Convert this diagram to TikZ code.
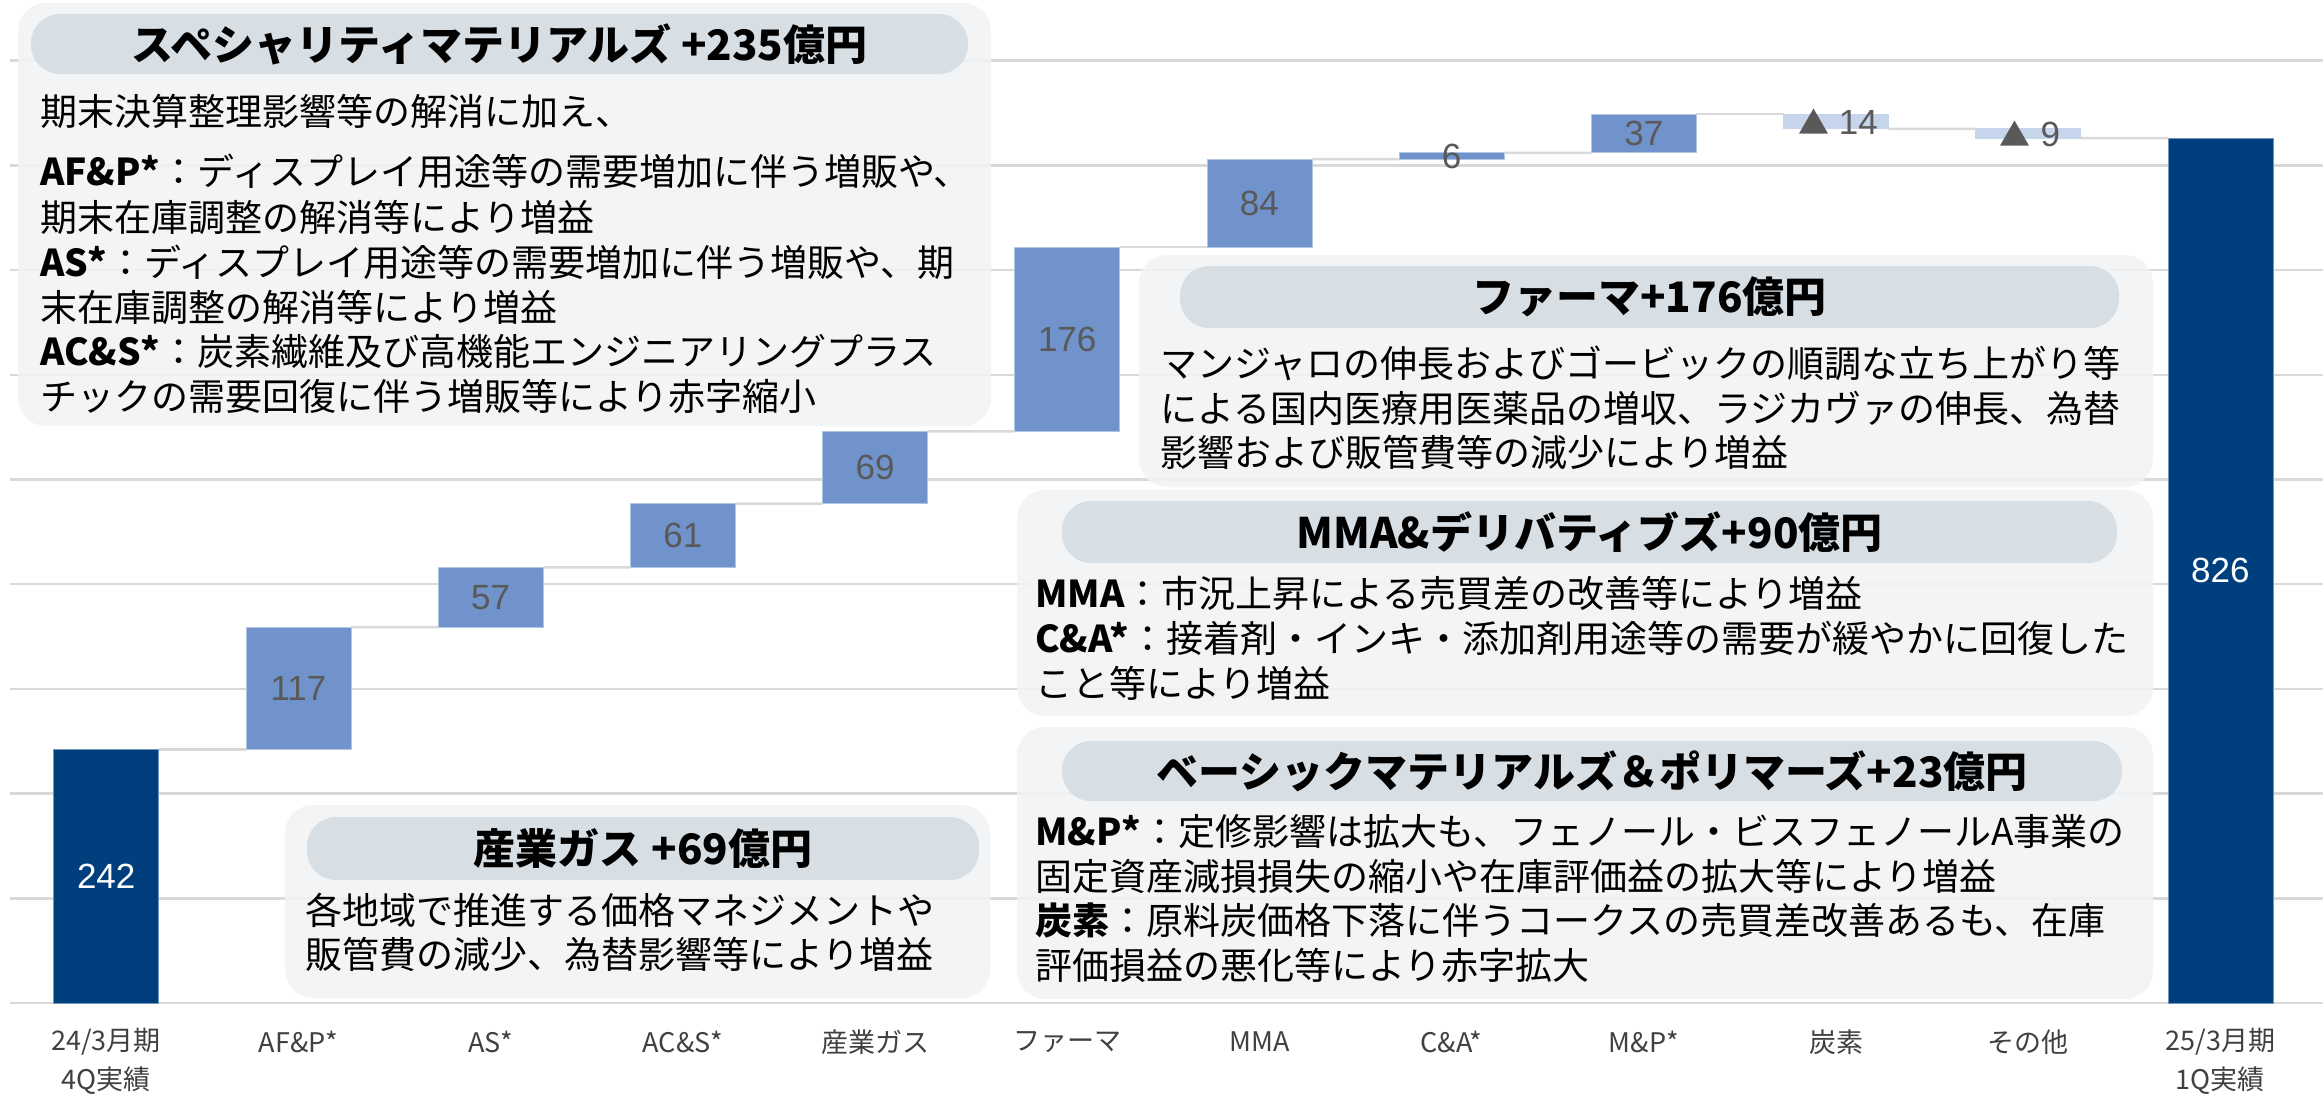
\documentclass[tikz,border=0pt]{standalone}
\usepackage{fontspec}
\setmainfont{Liberation Sans}
\newfontfamily\jp{Noto Sans CJK JP}
\definecolor{darkbar}{HTML}{003F7E}
\definecolor{midbar}{HTML}{7093CC}
\definecolor{lightbar}{HTML}{C6D5EC}
\definecolor{panelbg}{HTML}{F1F3F5}
\definecolor{pillbg}{HTML}{D7DFE4}
\definecolor{gridc}{HTML}{D9D9D9}
\definecolor{labc}{HTML}{595959}
\definecolor{catc}{HTML}{404040}
\newcommand{\tri}{{\jp\fontsize{31}{31}\selectfont ▲}}
\begin{document}
\begin{tikzpicture}[x=1pt,y=-1pt,
  barbox/.style={rectangle,inner sep=0pt,outer sep=0pt,minimum width=105pt,line width=0.8pt},
  darkb/.style={barbox,fill=darkbar,draw=darkbar!55!white},
  midb/.style={barbox,fill=midbar,draw=midbar!55!white},
  lightb/.style={barbox,fill=lightbar,draw=lightbar},
  vlab/.style={inner sep=0pt,text=labc,font=\fontsize{35}{35}\selectfont},
  wlab/.style={inner sep=0pt,text=white,font=\fontsize{35}{35}\selectfont},
  catlab/.style={inner sep=0pt,text=catc,align=center,font=\jp\fontsize{27}{39}\selectfont},
  gridl/.style={draw=gridc,line width=2.5pt},
  conn/.style={draw=gridc,line width=2.5pt},
  panel/.style={rectangle,rounded corners=28pt,fill=panelbg,fill opacity=0.85,inner sep=0pt,outer sep=0pt},
  pill/.style={rectangle,rounded corners=29pt,fill=pillbg,inner sep=0pt,text=black,font=\jp\bfseries\fontsize{42}{42}\selectfont},
  body/.style={anchor=west,inner sep=0pt,text=black,font=\jp\fontsize{37}{37}\selectfont}
]
\useasboundingbox (0,0) rectangle (2323,1096);
\fill[white] (0,0) rectangle (2323,1096);

% gridlines
\foreach \k in {0,...,9}
  \draw[gridl] (10,{1003-104.7*\k}) -- (2323,{1003-104.7*\k});

% bars
\node[darkb,minimum height=253.4pt] (b0) at (106.2,876.3) {};
\node[midb,minimum height=122.5pt] (b1) at (298.4,688.35) {};
\node[midb,minimum height=59.7pt] (b2) at (490.6,597.25) {};
\node[midb,minimum height=63.8pt] (b3) at (682.8,535.5) {};
\node[midb,minimum height=72.3pt] (b4) at (875.0,467.45) {};
\node[midb,minimum height=184.2pt] (b5) at (1067.2,339.2) {};
\node[midb,minimum height=88pt] (b6) at (1259.4,203.1) {};
\node[midb,minimum height=6.3pt] (b7) at (1451.6,155.95) {};
\node[midb,minimum height=38.7pt] (b8) at (1643.8,133.45) {};
\node[lightb,minimum height=14.7pt] (b9) at (1836.0,121.45) {};
\node[lightb,minimum height=9.4pt] (b10) at (2028.2,133.5) {};
\node[darkb,minimum height=864.8pt] (b11) at (2220.4,570.6) {};

% connectors
\draw[conn] (b0.north east) -- (b1.south west);
\draw[conn] (b1.north east) -- (b2.south west);
\draw[conn] (b2.north east) -- (b3.south west);
\draw[conn] (b3.north east) -- (b4.south west);
\draw[conn] (b4.north east) -- (b5.south west);
\draw[conn] (b5.north east) -- (b6.south west);
\draw[conn] (b6.north east) -- (b7.south west);
\draw[conn] (b7.north east) -- (b8.south west);
\draw[conn] (b8.north east) -- (b9.north west);
\draw[conn] (b9.south east) -- (b10.north west);
\draw[conn] (b10.south east) -- (b11.north west);

% value labels
\node[wlab] (v0) at (b0.center) {242};
\node[vlab] (v1) at (b1.center) {117};
\node[vlab] (v2) at (b2.center) {57};
\node[vlab] (v3) at (b3.center) {61};
\node[vlab] (v4) at (b4.center) {69};
\node[vlab] (v5) at (b5.center) {176};
\node[vlab] (v6) at (b6.center) {84};
\node[vlab] (v7) at (b7.center) {6};
\node[vlab] (v8) at (b8.center) {37};
\node[vlab] (v9) at (1838,122) {\tri\ 14};
\node[vlab] (v10) at (2030,134) {\tri\ 9};
\node[wlab] (v11) at (b11.center) {826};

% category labels
\node[catlab] (c0) at (106.2,1061.5) {24/3月期\\4Q実績};
\node[catlab] (c1) at (298.4,1042) {AF\&P*};
\node[catlab] (c2) at (490.6,1042) {AS*};
\node[catlab] (c3) at (682.8,1042) {AC\&S*};
\node[catlab] (c4) at (875.0,1042) {産業ガス};
\node[catlab] (c5) at (1067.2,1042) {ファーマ};
\node[catlab] (c6) at (1259.4,1042) {MMA};
\node[catlab] (c7) at (1451.6,1042) {C\&A*};
\node[catlab] (c8) at (1643.8,1042) {M\&P*};
\node[catlab] (c9) at (1836.0,1042) {炭素};
\node[catlab] (c10) at (2028.2,1042) {その他};
\node[catlab] (c11) at (2220.4,1061.5) {25/3月期\\1Q実績};

% panel 1: specialty
\node[panel,minimum width=973pt,minimum height=423pt] (p1) at (504.5,214.5) {};
\node[pill,minimum width=937pt,minimum height=60pt] (h1) at (499.5,44) {スペシャリティマテリアルズ +235億円};
\node[body] (t1a) at (40,111) {期末決算整理影響等の解消に加え、};
\node[body] (t1b) at (40,171) {{\bfseries AF\&P*}：ディスプレイ用途等の需要増加に伴う増販や、};
\node[body] (t1c) at (40,217) {期末在庫調整の解消等により増益};
\node[body] (t1d) at (40,262) {{\bfseries AS*}：ディスプレイ用途等の需要増加に伴う増販や、期};
\node[body] (t1e) at (40,307) {末在庫調整の解消等により増益};
\node[body] (t1f) at (40,351) {{\bfseries AC\&S*}：炭素繊維及び高機能エンジニアリングプラス};
\node[body] (t1g) at (40,396) {チックの需要回復に伴う増販等により赤字縮小};

% panel 2: pharma
\node[panel,minimum width=1014pt,minimum height=232pt] (p2) at (1646,371) {};
\node[pill,minimum width=939pt,minimum height=62pt] (h2) at (1649.5,297) {ファーマ+176億円};
\node[body] (t2a) at (1160,363) {マンジャロの伸長およびゴービックの順調な立ち上がり等};
\node[body] (t2b) at (1160,408) {による国内医療用医薬品の増収、ラジカヴァの伸長、為替};
\node[body] (t2c) at (1160,452) {影響および販管費等の減少により増益};

% panel 3: MMA
\node[panel,minimum width=1136pt,minimum height=226pt] (p3) at (1585,603) {};
\node[pill,minimum width=1055pt,minimum height=62pt] (h3) at (1589.5,532) {MMA\&デリバティブズ+90億円};
\node[body] (t3a) at (1035,593) {{\bfseries MMA}：市況上昇による売買差の改善等により増益};
\node[body] (t3b) at (1035,638) {{\bfseries C\&A*}：接着剤・インキ・添加剤用途等の需要が緩やかに回復した};
\node[body] (t3c) at (1035,683) {こと等により増益};

% panel 4: basic
\node[panel,minimum width=1136pt,minimum height=272pt] (p4) at (1585,863) {};
\node[pill,minimum width=1060pt,minimum height=60pt] (h4) at (1592,771) {ベーシックマテリアルズ＆ポリマーズ+23億円};
\node[body] (t4a) at (1035,831) {{\bfseries M\&P*}：定修影響は拡大も、フェノール・ビスフェノールA事業の};
\node[body] (t4b) at (1035,876) {固定資産減損損失の縮小や在庫評価益の拡大等により増益};
\node[body] (t4c) at (1035,920) {{\bfseries 炭素}：原料炭価格下落に伴うコークスの売買差改善あるも、在庫};
\node[body] (t4d) at (1035,965) {評価損益の悪化等により赤字拡大};

% panel 5: industrial gas
\node[panel,minimum width=705pt,minimum height=193pt] (p5) at (637.5,901.5) {};
\node[pill,minimum width=672pt,minimum height=63pt] (h5) at (643,848.5) {産業ガス +69億円};
\node[body] (t5a) at (305,910) {各地域で推進する価格マネジメントや};
\node[body] (t5b) at (305,954) {販管費の減少、為替影響等により増益};
\end{tikzpicture}
\end{document}
